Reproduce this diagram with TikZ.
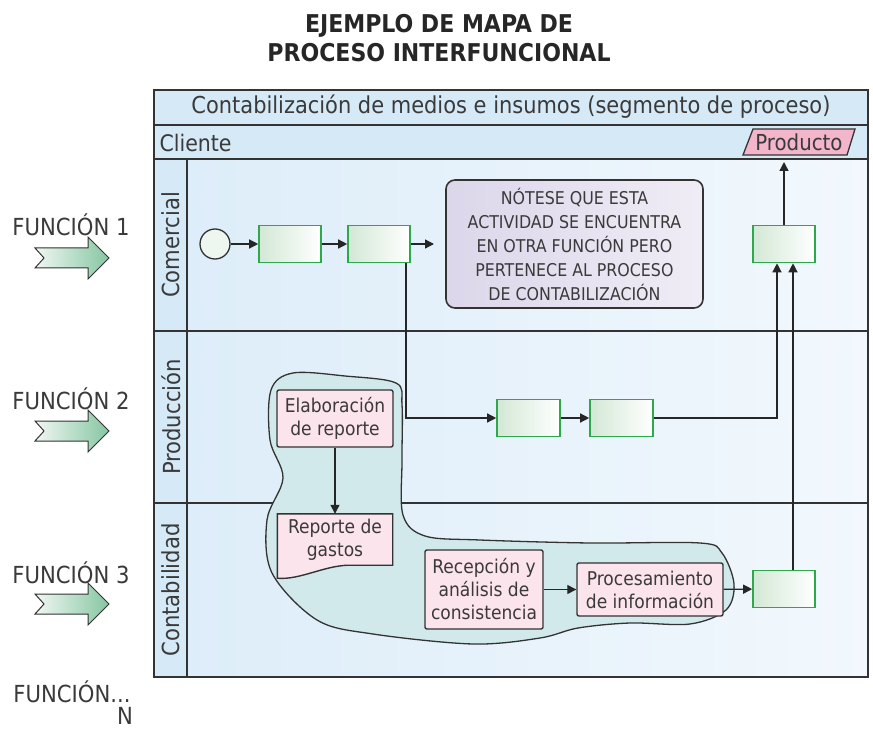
\documentclass[tikz,border=0pt]{standalone}
\usepackage{fontspec}
\setmainfont{DejaVu Sans Condensed}
\usetikzlibrary{arrows.meta,calc,shapes.geometric}
\definecolor{lanebg}{HTML}{DDEDF9}
\definecolor{lanebg2}{HTML}{F2F8FD}
\definecolor{headbg}{HTML}{D5E9F7}
\definecolor{gborder}{HTML}{2DA84A}
\definecolor{gfill}{HTML}{D3E8D6}
\definecolor{pinkf}{HTML}{FCE4EC}
\definecolor{notef}{HTML}{DCD6EA}
\definecolor{blobf}{HTML}{D2E9EB}
\definecolor{arrg}{HTML}{86C6A2}
\definecolor{arrl}{HTML}{F0F7F2}
\definecolor{linec}{HTML}{333333}
\definecolor{prodf}{HTML}{F3B5CA}
\definecolor{txt}{HTML}{3A3A3A}
\tikzset{
  lnx/.style={draw=linec, line width=1.6pt},
  arr/.style={draw=black!85, line width=1.3pt, -{Triangle[length=9pt,width=9pt]}},
  gbox/.style={draw=gborder, line width=1.6pt, left color=gfill, right color=white,
    minimum width=62pt, minimum height=37pt, inner sep=0pt},
  pbox/.style={draw=linec, line width=1.4pt, fill=pinkf, rounded corners=2pt,
    align=center, inner sep=0pt, text=txt, font=\fontsize{19}{23}\selectfont},
  funlbl/.style={text=txt, font=\fontsize{23.5}{26}\selectfont},
  lanelbl/.style={text=txt, rotate=90, font=\fontsize{23.5}{26}\selectfont},
  farrow/.pic={
    \shade[draw=linec, line width=1pt, left color=arrl, right color=arrg]
      (-37,-10) -- (16,-10) -- (16,-21) -- (37,0) -- (16,21) -- (16,10)
      -- (-37,10) -- (-28,0) -- cycle;
  }
}
\begin{document}
\begin{tikzpicture}[x=1pt,y=-1pt]
\useasboundingbox[fill=white] (0,0) rectangle (873,730);
% title
\node[font=\bfseries\fontsize{24.5}{29}\selectfont, text=black!85, align=center] (title) at (439,38)
  {EJEMPLO DE MAPA DE\\PROCESO INTERFUNCIONAL};
% pool background
\shade[left color=lanebg, right color=lanebg2] (187,159) rectangle (868,677);
\fill[headbg] (154,90) rectangle (868,159);
\fill[headbg] (154,159) rectangle (187,677);
\draw[lnx] (154,125) -- (868,125);
\draw[lnx] (154,159) -- (868,159);
\draw[lnx] (154,331) -- (868,331);
\draw[lnx] (154,503) -- (868,503);
\draw[lnx] (187,159) -- (187,677);
\draw[lnx] (154,90) rectangle (868,677);
% headers
\node[text=txt, font=\fontsize{23.3}{26}\selectfont] (hdr) at (511,107)
  {Contabilización de medios e insumos (segmento de proceso)};
\node[text=txt, anchor=west, font=\fontsize{22.8}{26}\selectfont] (cli) at (156,143) {Cliente};
\draw[draw=linec, line width=1.3pt, fill=prodf] (743,155) -- (753,129) -- (855,129) -- (847,155) -- cycle;
\node[text=txt, inner sep=0pt, font=\fontsize{22}{24}\selectfont] (prod) at (799,142) {Producto};
% lane labels
\node[lanelbl] (l1) at (171,245) {Comercial};
\node[lanelbl] (l2) at (171,417) {Producción};
\node[lanelbl] (l3) at (171,590) {Contabilidad};
% function labels
\node[funlbl] (f1) at (71,225) {FUNCIÓN 1};
\node[funlbl] (f2) at (71,399) {FUNCIÓN 2};
\node[funlbl] (f3) at (71,573) {FUNCIÓN 3};
\node[funlbl] (f4) at (72,692) {FUNCIÓN...};
\node[funlbl] (f5) at (125,716) {N};
\pic at (72,258) {farrow};
\pic at (72,431) {farrow};
\pic at (72,604) {farrow};
% blob
\draw[line width=1.3pt, draw=linec, fill=blobf]
  plot[smooth cycle, tension=0.55] coordinates {
  (293,373) (345,376) (396,383) (402,405) (402,460) (403,515) (425,536)
  (480,540) (590,543) (700,543) (722,553) (734,584) (726,610) (690,624)
  (630,623) (578,628) (540,638) (473,644) (373,634) (317,620) (272,573)
  (267,520) (283,478) (270,440) (271,390)};
% comercial
\node[circle, draw=linec, line width=1.3pt, fill=gfill!40, minimum size=30pt, inner sep=0pt] (st) at (215,244) {};
\node[gbox] (c1) at (290,244) {};
\node[gbox] (c2) at (379,244) {};
\node[gbox] (cR) at (784,244) {};
\node[draw=linec, line width=1.6pt, rounded corners=9pt, left color=notef, right color=notef!45,
  minimum width=257pt, minimum height=128pt, align=center, text=txt,
  font=\fontsize{17.6}{24}\selectfont] (note) at (574.5,244)
  {NÓTESE QUE ESTA\\ACTIVIDAD SE ENCUENTRA\\EN OTRA FUNCIÓN PERO\\PERTENECE AL PROCESO\\DE CONTABILIZACIÓN};
% produccion
\node[gbox, minimum width=63pt] (p1) at (528.5,418) {};
\node[gbox, minimum width=63pt] (p2) at (621.5,418) {};
\node[pbox, minimum width=116pt, minimum height=57pt] (el) at (335,418.5) {Elaboración\\de reporte};
% contabilidad
\coordinate (rg) at (335,539.5);
\node[minimum width=115pt, minimum height=51pt, inner sep=0pt] (rgb) at (rg) {};
\fill[pinkf] (rgb.north west) -- (rgb.north east) -- (rgb.south east) -- ([xshift=-45pt]rgb.south east)
  .. controls ([xshift=-70pt,yshift=-1pt]rgb.south east) and ([xshift=22pt,yshift=-15pt]rgb.south west) .. ([yshift=-13pt]rgb.south west) -- cycle;
\draw[line width=1.4pt, draw=linec] (rgb.north west) -- (rgb.north east) -- (rgb.south east) -- ([xshift=-45pt]rgb.south east)
  .. controls ([xshift=-70pt,yshift=-1pt]rgb.south east) and ([xshift=22pt,yshift=-15pt]rgb.south west) .. ([yshift=-13pt]rgb.south west) -- cycle;
\node[minimum width=115pt, minimum height=51pt, inner sep=0pt, align=center, text=txt,
  font=\fontsize{19}{23}\selectfont] (rgt) at (rg) {Reporte de\\gastos};
\node[pbox, minimum width=118pt, minimum height=79pt] (rc) at (484,589.5) {Recepción y\\análisis de\\consistencia};
\node[pbox, minimum width=146pt, minimum height=53pt] (pr) at (650,589.5) {Procesamiento\\de información};
\node[gbox] (kR) at (784,589) {};
% free ends
\coordinate (c2end) at (434,244);
\coordinate (cRtop) at (784,162);
% connectors
\draw[arr] (st) -- (c1);
\draw[arr] (c1) -- (c2);
\draw[arr] (c2.east) -- (c2end);
\draw[arr] (cR.north) -- (cRtop);
\draw[arr] ([xshift=27pt]c2.south) |- (p1.west);
\draw[arr] (p1) -- (p2);
\draw[arr] (p2.east) -| ([xshift=-7pt]cR.south);
\draw[arr] ([xshift=9pt]kR.north) -- ([xshift=9pt]cR.south);
\draw[arr] (el.south) -- (rgb.north);
\draw[arr] (rc) -- (pr);
\draw[arr] (pr) -- (kR);
\end{tikzpicture}
\end{document}
